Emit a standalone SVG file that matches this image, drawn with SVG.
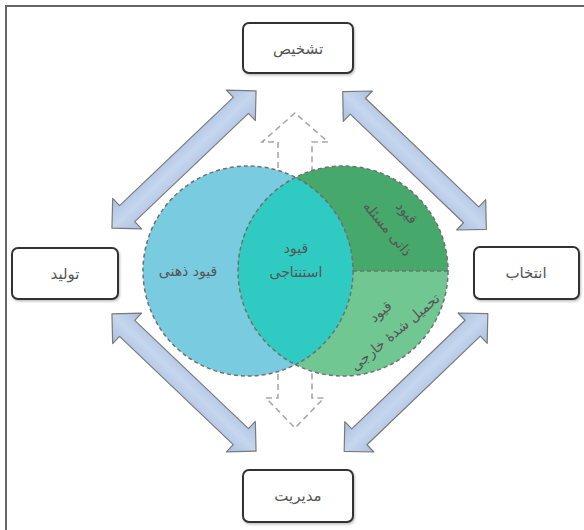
<svg xmlns="http://www.w3.org/2000/svg" width="584" height="530" viewBox="0 0 584 530">
<style>
.box{fill:#fff;stroke:#333;stroke-width:2}
.lbl{font-family:"DejaVu Sans",sans-serif;font-size:15px;fill:#555;text-anchor:middle}
.in{font-family:"DejaVu Sans",sans-serif;font-size:14px;fill:#555;text-anchor:middle}
.dash{fill:none;stroke:#707070;stroke-width:1.5;stroke-dasharray:4 3}
.darr{fill:none;stroke:#a8a8a8;stroke-width:1.6;stroke-dasharray:6 4}
.barr{fill:url(#ag);stroke:#7a7a7a;stroke-width:1.2;stroke-linejoin:round}
</style>
<defs>
<linearGradient id="ag" x1="0" y1="0" x2="0" y2="1">
<stop offset="0" stop-color="#a9bfdf"/>
<stop offset="0.5" stop-color="#c6d6ee"/>
<stop offset="1" stop-color="#a9bfdf"/>
</linearGradient>
<path id="dbl" d="M-99.5 0 L-78.5 -21 L-78.5 -11 L78.5 -11 L78.5 -21 L99.5 0 L78.5 21 L78.5 11 L-78.5 11 L-78.5 21 Z"/>
<filter id="sh" x="-10%" y="-10%" width="130%" height="130%"><feDropShadow dx="1" dy="1.5" stdDeviation="1.2" flood-color="#000" flood-opacity="0.25"/></filter>
</defs>
<rect width="584" height="530" fill="#fff"/>
<path d="M6 530 L6 6 L584 6" fill="none" stroke="#666" stroke-width="2"/>

<g id="connectors">
<use href="#dbl" class="barr" transform="translate(184,159.5) rotate(-43.6)"/>
<use href="#dbl" class="barr" transform="translate(414.5,160.5) rotate(43.8)"/>
<use href="#dbl" class="barr" transform="translate(184,382.5) rotate(43.6)"/>
<use href="#dbl" class="barr" transform="translate(416,382.5) rotate(-43.8)"/>
<path class="darr" d="M278 178 L278 142 L262 142 L295 113 L328 142 L312 142 L312 178"/>
<path class="darr" d="M278 364 L278 398 L266 398 L295 428 L324 398 L312 398 L312 364"/>
</g>

<g id="venn">
<circle cx="248" cy="271" r="105" fill="#79cbe0"/>
<path d="M238 271 A105 105 0 0 1 448 271 Z" fill="#47a86b"/>
<path d="M448 271 A105 105 0 0 1 238 271 Z" fill="#71c792"/>
<path d="M295.5 177.4 A105 105 0 0 1 295.5 364.6 A105 105 0 0 1 295.5 177.4 Z" fill="#2fcbc3"/>
<circle class="dash" cx="248" cy="271" r="105"/>
<circle class="dash" cx="343" cy="271" r="105"/>
<line class="dash" x1="353" y1="271" x2="448" y2="271"/>
</g>

<g id="mental"><text class="in" x="188" y="276">قیود ذهنی</text></g>
<g id="inferential"><text class="in" x="296" y="253">قیود</text><text class="in" x="296" y="277">استنتاجی</text></g>
<g id="inherent" transform="translate(397,221) rotate(50)"><text class="in" x="0" y="-8">قیود</text><text class="in" x="0" y="17">ذاتی مسئله</text></g>
<g id="external" transform="translate(388,322) rotate(-40)"><text class="in" x="1" y="-8">قیود</text><text class="in" x="-1" y="17">تحمیل شدهٔ خارجی</text></g>

<g id="diagnosis"><rect class="box" x="243" y="23" width="110" height="50" rx="6" filter="url(#sh)"/><text class="lbl" x="298" y="54">تشخیص</text></g>
<g id="production"><rect class="box" x="12" y="248" width="106" height="51" rx="6" filter="url(#sh)"/><text class="lbl" x="65" y="279">تولید</text></g>
<g id="selection"><rect class="box" x="474" y="247" width="105" height="52" rx="6" filter="url(#sh)"/><text class="lbl" x="526" y="278">انتخاب</text></g>
<g id="management"><rect class="box" x="243" y="470" width="110" height="52" rx="6" filter="url(#sh)"/><text class="lbl" x="298" y="501">مدیریت</text></g>
</svg>
